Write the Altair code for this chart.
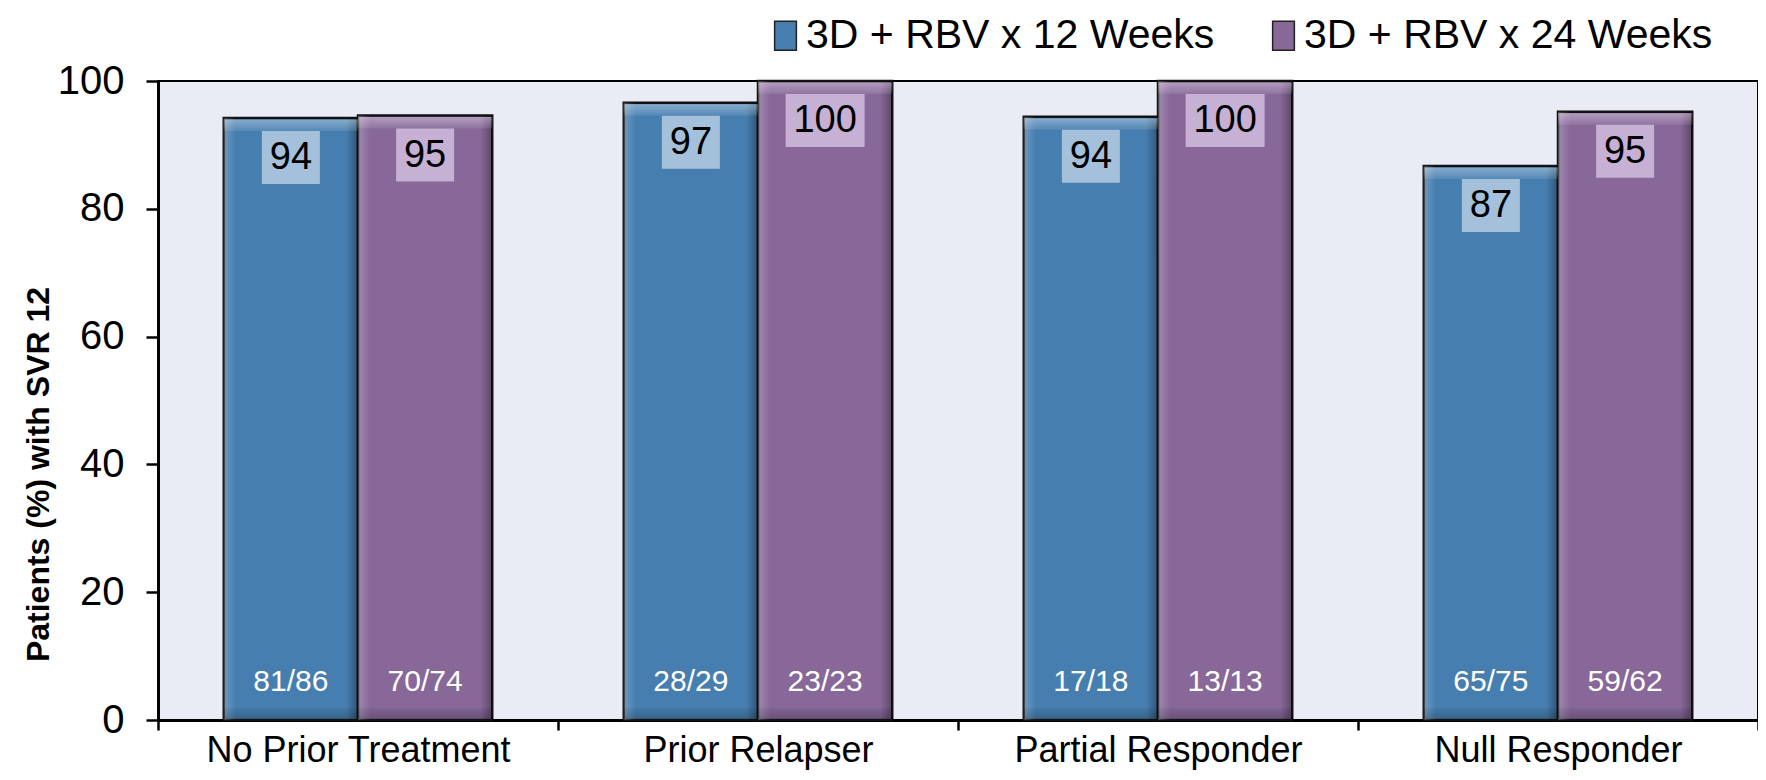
import altair as alt
import pandas as pd

categories = ["No Prior Treatment", "Prior Relapser", "Partial Responder", "Null Responder"]
series = ["3D + RBV x 12 Weeks", "3D + RBV x 24 Weeks"]
pct_12 = [94.2, 96.6, 94.4, 86.7]
pct_24 = [94.6, 100.0, 100.0, 95.2]
label_12 = [94, 97, 94, 87]
label_24 = [95, 100, 100, 95]
n_12 = ["81/86", "28/29", "17/18", "65/75"]
n_24 = ["70/74", "23/23", "13/13", "59/62"]
y_ticks = [0, 20, 40, 60, 80, 100]

rows = []
for i, c in enumerate(categories):
    rows.append(dict(cat=c, series=series[0], pct=pct_12[i], label=label_12[i], n=n_12[i]))
    rows.append(dict(cat=c, series=series[1], pct=pct_24[i], label=label_24[i], n=n_24[i]))
df = pd.DataFrame(rows)

FONT = "Liberation Sans"
BLUE = "#467EB0"
PURPLE = "#876899"
BLUE_BOX = "#A4C0DA"
PURPLE_BOX = "#C6B0D3"
H = 639

x_enc = alt.X("cat:N", sort=categories,
              scale=alt.Scale(paddingInner=0, paddingOuter=0),
              axis=alt.Axis(title=None, labelAngle=0, tickBand="extent", tickSize=10,
                            labelPadding=3, labelFontSize=36, labelFont=FONT,
                            labelColor="black", domainColor="black", domainWidth=3,
                            tickColor="black", tickWidth=2.5, labelLimit=0))
xo_enc = alt.XOffset("series:N", sort=series,
                     scale=alt.Scale(paddingInner=0, paddingOuter=0.49))

base = alt.Chart(df).encode(x=x_enc, xOffset=xo_enc)

bars = base.mark_bar(stroke="#111111", strokeWidth=2.5).encode(
    y=alt.Y("pct:Q", scale=alt.Scale(domain=[0, 100], nice=False),
            axis=alt.Axis(values=y_ticks, title="Patients (%) with SVR 12",
                          titleFont=FONT, titleFontSize=32, titleFontWeight="bold",
                          titleColor="black", titleX=-120, titleY=393, titleAngle=-90,
                          titleBaseline="middle", titleAlign="center",
                          labelFontSize=40, labelFont=FONT, labelColor="black",
                          labelPadding=22, tickSize=12, tickWidth=2.5, tickColor="black",
                          domainColor="black", domainWidth=3, grid=False)),
    color=alt.Color("series:N", sort=series,
                    scale=alt.Scale(domain=series, range=[BLUE, PURPLE]),
                    legend=alt.Legend(title=None, orient="none", direction="horizontal",
                                      legendX=607, legendY=-66, labelFontSize=41,
                                      labelFont=FONT, labelColor="black", labelLimit=0,
                                      symbolType="M-0.75,-1L0.75,-1L0.75,1L-0.75,1Z",
                                      symbolSize=841, symbolStrokeColor="#222222",
                                      symbolStrokeWidth=1.5, symbolOpacity=1,
                                      columnPadding=48, labelOffset=0)),
)

side_bevel = base.mark_bar(
    fill=alt.LinearGradient(
        gradient="linear", x1=0, x2=1, y1=0, y2=0,
        stops=[alt.GradientStop(offset=0, color="rgba(255,255,255,0.22)"),
               alt.GradientStop(offset=0.09, color="rgba(255,255,255,0)"),
               alt.GradientStop(offset=0.91, color="rgba(0,0,0,0)"),
               alt.GradientStop(offset=1, color="rgba(0,0,0,0.32)")]),
).encode(y=alt.Y("pct:Q"))

top_bevel = base.mark_bar(
    yOffset=1.5, y2Offset=13,
    fill=alt.LinearGradient(
        gradient="linear", x1=0, x2=0, y1=0, y2=1,
        stops=[alt.GradientStop(offset=0, color="rgba(255,255,255,0.35)"),
               alt.GradientStop(offset=1, color="rgba(255,255,255,0.08)")]),
).encode(y=alt.Y("pct:Q"), y2=alt.Y2("pct:Q"))

bottom_bevel = base.mark_bar(
    yOffset=-12, y2Offset=-1.5,
    fill=alt.LinearGradient(
        gradient="linear", x1=0, x2=0, y1=0, y2=1,
        stops=[alt.GradientStop(offset=0, color="rgba(0,0,0,0.05)"),
               alt.GradientStop(offset=1, color="rgba(0,0,0,0.2)")]),
).encode(y=alt.datum(0), y2=alt.datum(0))

boxes = base.mark_bar(yOffset=13, y2Offset=66).encode(
    y=alt.Y("pct:Q"),
    y2=alt.Y2("pct:Q"),
    fill=alt.condition(alt.datum.series == series[0], alt.value(BLUE_BOX), alt.value(PURPLE_BOX)),
    size=alt.condition(alt.datum.label >= 100, alt.value(79), alt.value(58)),
)

value_text = base.mark_text(font=FONT, fontSize=38, color="black", baseline="middle", dy=40).encode(
    y=alt.Y("pct:Q"),
    text=alt.Text("label:Q"),
)

n_text = base.mark_text(font=FONT, fontSize=30, color="white", baseline="middle", dy=-38).encode(
    y=alt.value(H),
    text=alt.Text("n:N"),
)

chart = alt.layer(bars, side_bevel, top_bevel, bottom_bevel, boxes, value_text, n_text).properties(
    width=1600, height=H,
    autosize=alt.AutoSizeParams(type="none"),
    padding={"left": 150, "top": 73, "right": 0, "bottom": 52},
).configure_view(fill="#E9ECF5", stroke="black", strokeWidth=2)

chart.save("out.html", embed_options={"renderer": "svg", "actions": False})
